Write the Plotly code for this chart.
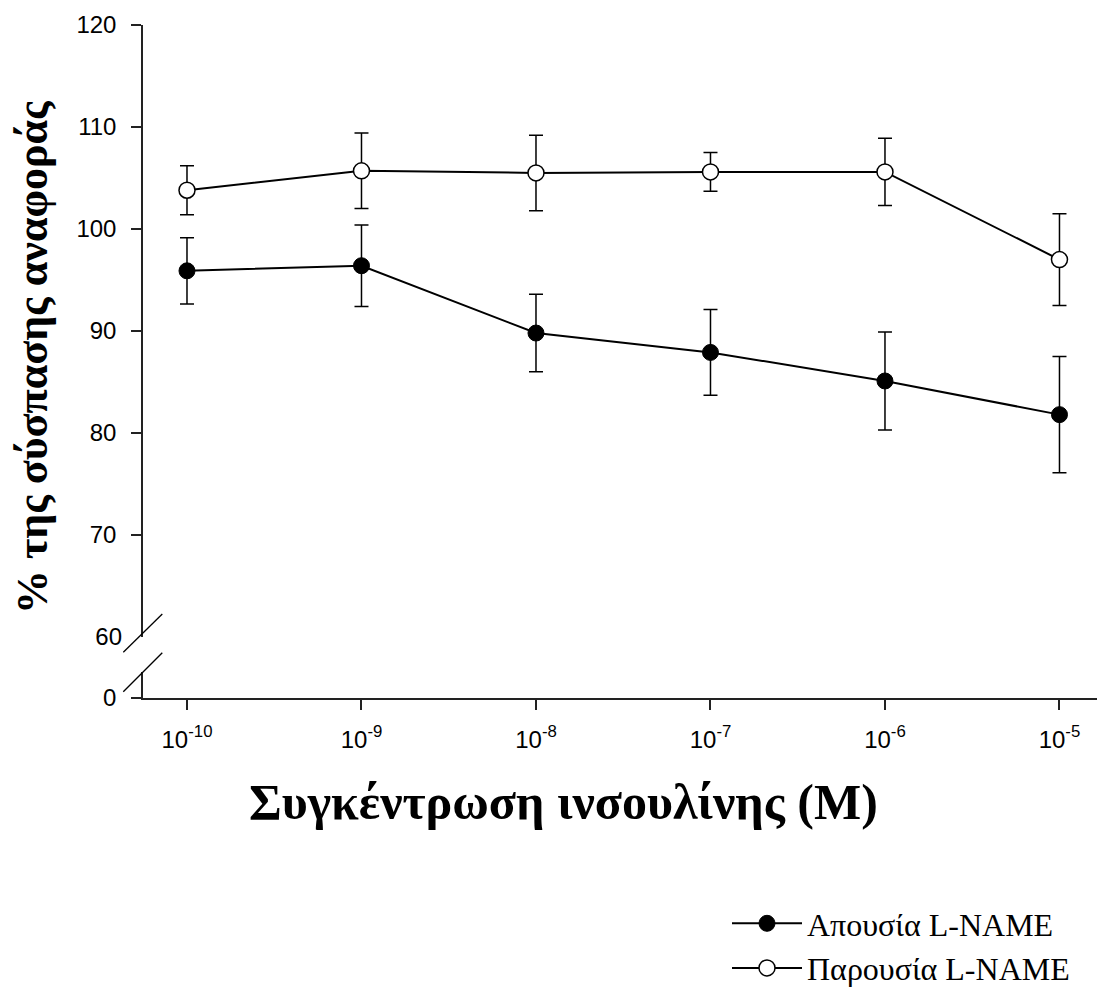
import plotly.graph_objects as go

# ---- data ----
x_exp = [-10, -9, -8, -7, -6, -5]
x_labels = ["10<sup>-10</sup>", "10<sup>-9</sup>", "10<sup>-8</sup>",
            "10<sup>-7</sup>", "10<sup>-6</sup>", "10<sup>-5</sup>"]
absent_mean = [95.9, 96.4, 89.8, 87.9, 85.1, 81.8]
absent_err = [3.25, 4.0, 3.8, 4.2, 4.8, 5.7]
present_mean = [103.8, 105.7, 105.5, 105.6, 105.6, 97.0]
present_err = [2.4, 3.7, 3.7, 1.9, 3.3, 4.5]
y_ticks_upper = [70, 80, 90, 100, 110, 120]
series_names = ["Απουσία L-NAME", "Παρουσία L-NAME"]

AX = "#222222"
TICKFONT = dict(family="Arial, Liberation Sans, sans-serif", size=24, color="black")
SERIF = "Times New Roman, Liberation Serif, serif"

W, H = 1097, 994
L, R, T, B = 143, 0, 25, 296
plot_w = W - L - R
plot_h = H - T - B
y_axis_bottom_px = H - B  # 698


def py(p):
    return (y_axis_bottom_px - p) / plot_h


def px(p):
    return (p - L) / plot_w


fig = go.Figure()
fig.add_trace(go.Scatter(
    x=x_exp, y=absent_mean, name=series_names[0], mode="lines+markers",
    line=dict(color="black", width=2),
    marker=dict(symbol="circle", size=16, color="black", line=dict(color="black", width=1)),
    error_y=dict(type="data", array=absent_err, color="black", thickness=1.5, width=7),
    xaxis="x", yaxis="y",
))
fig.add_trace(go.Scatter(
    x=x_exp, y=present_mean, name=series_names[1], mode="lines+markers",
    line=dict(color="black", width=2),
    marker=dict(symbol="circle", size=16, color="white", line=dict(color="black", width=1.5)),
    error_y=dict(type="data", array=present_err, color="black", thickness=1.5, width=7),
    xaxis="x", yaxis="y",
))
# empty helper traces so the lower axis segment and the "60" label axis are drawn
fig.add_trace(go.Scatter(x=[None], y=[None], xaxis="x", yaxis="y2", showlegend=False, hoverinfo="skip"))
fig.add_trace(go.Scatter(x=[None], y=[None], xaxis="x", yaxis="y3", showlegend=False, hoverinfo="skip"))

d_up = py(637)
d_low = py(672)

fig.update_layout(
    width=W, height=H,
    margin=dict(l=L, r=R, t=T, b=B, autoexpand=False),
    plot_bgcolor="white", paper_bgcolor="white",
    showlegend=True,
    xaxis=dict(range=[-10.2521, -4.785], anchor="y2", tickvals=x_exp, ticktext=x_labels,
               ticks="outside", ticklen=10, tickwidth=1.5, tickcolor=AX,
               showline=True, linecolor=AX, linewidth=1.5, showgrid=False, zeroline=False,
               tickfont=TICKFONT, ticklabelstandoff=9),
    yaxis=dict(domain=[d_up, 1], range=[60, 120], anchor="x", tickvals=y_ticks_upper,
               ticks="outside", ticklen=10, tickwidth=1.5, tickcolor=AX,
               showline=True, linecolor=AX, linewidth=1.5, showgrid=False, zeroline=False,
               tickfont=TICKFONT, ticklabelstandoff=10),
    yaxis3=dict(overlaying="y", range=[60, 120], anchor="x", side="left", tickvals=[60],
                ticks="", showline=False, showgrid=False, zeroline=False,
                tickfont=TICKFONT, ticklabelstandoff=20),
    yaxis2=dict(domain=[0, d_low], range=[0, (698 - 672) / 10.2], anchor="x", tickvals=[0],
                ticks="outside", ticklen=10, tickwidth=1.5, tickcolor=AX,
                showline=True, linecolor=AX, linewidth=1.5, showgrid=False, zeroline=False,
                tickfont=TICKFONT, ticklabelstandoff=10),
    legend=dict(x=px(727), y=py(896), xanchor="left", yanchor="top",
                itemwidth=70,
                font=dict(family=SERIF, size=32, color="black"),
                bgcolor="rgba(0,0,0,0)", borderwidth=0),
)

# axis-break slashes
for (x0, y0, x1, y1) in [(123.3, 652.3, 162.3, 614.0), (123.3, 691.7, 162.3, 652.7)]:
    fig.add_shape(type="line", xref="paper", yref="paper",
                  x0=px(x0), y0=py(y0), x1=px(x1), y1=py(y1),
                  line=dict(color="black", width=1.3))

# axis titles
fig.add_annotation(text="<b>Συγκέντρωση ινσουλίνης (M)</b>", xref="paper", yref="paper",
                   x=px(563), y=py(802), xanchor="center", yanchor="middle", showarrow=False,
                   font=dict(family=SERIF, size=50, color="black"))
fig.add_annotation(text="<b>% της σύσπασης αναφοράς</b>", xref="paper", yref="paper",
                   x=px(32), y=py(357), xanchor="center", yanchor="middle", showarrow=False,
                   textangle=-90, font=dict(family=SERIF, size=44, color="black"))

fig.write_html("out.html")
